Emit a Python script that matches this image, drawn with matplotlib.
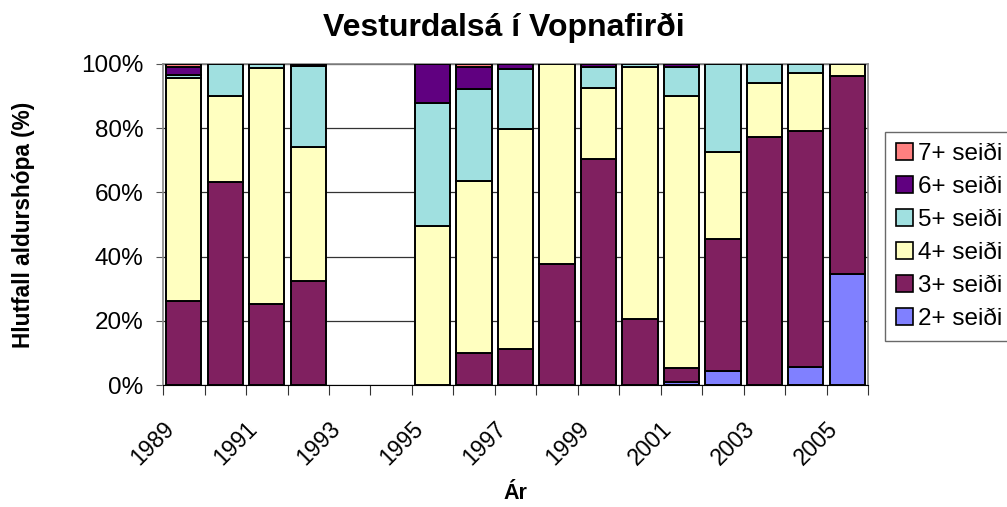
import matplotlib
matplotlib.use("Agg")
import matplotlib.pyplot as plt
import matplotlib.transforms as mtransforms
from matplotlib.patches import Patch
import numpy as np

plt.rcParams['font.family'] = ['Liberation Sans', 'DejaVu Sans']

years = list(range(1989, 2006))
groups = ["2+ seiði", "3+ seiði", "4+ seiði", "5+ seiði", "6+ seiði", "7+ seiði"]
colors = ["#8080FF", "#802060", "#FFFFC0", "#A0E0E0", "#600080", "#FF8080"]

# hlutföll (%) eftir árum, 1993 og 1994 vantar
s2 = [0, 0, 0, 0, 0, 0, 0, 0, 0, 0, 0, 0, 1.0, 4.5, 0, 5.5, 34.6]
s3 = [26.3, 63.3, 25.1, 32.5, 0, 0, 0, 10.1, 11.1, 37.7, 70.4, 20.5, 4.2, 41.0, 77.2, 73.5, 61.8]
s4 = [69.3, 26.8, 73.8, 41.6, 0, 0, 49.6, 53.6, 68.7, 62.3, 22.2, 78.5, 84.8, 27.2, 16.8, 18.3, 3.6]
s5 = [1.0, 9.9, 1.1, 25.4, 0, 0, 38.1, 28.4, 18.6, 0, 6.4, 1.0, 9.2, 27.3, 6.0, 2.7, 0]
s6 = [2.6, 0, 0, 0.5, 0, 0, 12.3, 7.1, 1.6, 0, 1.0, 0, 0.8, 0, 0, 0, 0]
s7 = [0.8, 0, 0, 0, 0, 0, 0, 0.8, 0, 0, 0, 0, 0, 0, 0, 0, 0]
series = [s2, s3, s4, s5, s6, s7]
present = [1, 1, 1, 1, 0, 0, 1, 1, 1, 1, 1, 1, 1, 1, 1, 1, 1]

fig = plt.figure(figsize=(10.07, 5.07), dpi=100)
ax = fig.add_axes([0.162, 0.2406, 0.700, 0.6332])

x = np.arange(len(years))
bottom = np.zeros(len(years))
for vals, col in zip(series, colors):
    v = np.array(vals, dtype=float)
    m = (v > 0) & (np.array(present) == 1)
    ax.bar(x[m], v[m], bottom=bottom[m], width=0.85, color=col,
           edgecolor='black', linewidth=1.4, zorder=3)
    bottom += v

ax.set_xlim(-0.5, len(years) - 0.5)
ax.set_ylim(0, 100)
ax.set_yticks([0, 20, 40, 60, 80, 100])
ax.set_yticklabels([f"{t}%" for t in [0, 20, 40, 60, 80, 100]], fontsize=17.5)
ax.yaxis.grid(True, color='#333333', linewidth=0.9, zorder=0)
ax.tick_params(axis='y', length=5, color='#555555', pad=9)

ax.set_xticks(np.arange(-0.5, len(years), 1.0))
ax.set_xticklabels([])
ax.tick_params(axis='x', which='major', length=7, color='#333333')
ax.set_xticks(x[::2], minor=True)
ax.set_xticklabels([str(y) for y in years[::2]], minor=True, rotation=45,
                   ha='right', va='top', rotation_mode='anchor', fontsize=16.5)
ax.tick_params(axis='x', which='minor', length=0, pad=23)
shift = mtransforms.ScaledTranslation(-21 / 100, 0, fig.dpi_scale_trans)
for lbl in ax.get_xticklabels(minor=True):
    lbl.set_transform(lbl.get_transform() + shift)

for s in ['top', 'right', 'left']:
    ax.spines[s].set_color('#888888')
    ax.spines[s].set_linewidth(1.2)
ax.spines['bottom'].set_color('black')

fig.text(504 / 1007, 1 - 35.7 / 507, "Vesturdalsá í Vopnafirði", fontsize=23,
         fontweight='bold', ha='center', va='baseline')
ax.set_xlabel("Ár", fontsize=15.5, fontweight='bold', labelpad=10)
ax.set_ylabel("Hlutfall aldurshópa (%)", fontsize=16.3, fontweight='bold')
ax.yaxis.set_label_coords(-0.1816, 0.5)

handles = [Patch(facecolor=c, edgecolor='black', linewidth=1.2) for c in colors]
leg = fig.legend(handles[::-1], groups[::-1], loc='upper left',
                 bbox_to_anchor=(885 / 1007, 1 - 132 / 507), fontsize=17.5,
                 frameon=True, fancybox=False, handlelength=0.7, handleheight=0.7,
                 handletextpad=0.2, labelspacing=0.45, borderpad=0.45, borderaxespad=0)
leg.get_frame().set_edgecolor('#444444')
leg.get_frame().set_linewidth(1.0)

fig.savefig("out.png", dpi=100)
